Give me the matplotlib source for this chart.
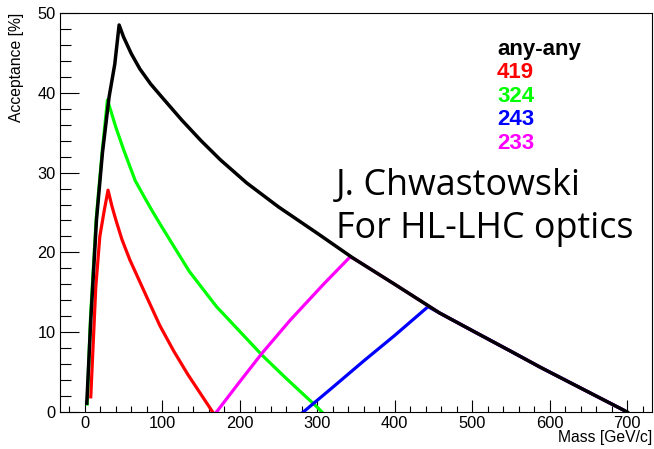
import matplotlib
matplotlib.use("Agg")
import matplotlib.pyplot as plt
from matplotlib.ticker import MultipleLocator

plt.rcParams['font.family'] = ['Liberation Sans', 'DejaVu Sans']

# Acceptance vs mass
any_x = [2.6, 7.7, 15.1, 22.8, 31.4, 38.7, 44.3, 50, 60, 71, 85, 100, 125, 150, 175,
         209, 250, 300, 346, 400, 458, 500, 550, 588, 650, 695, 700]
any_y = [1.1, 11.5, 24.1, 32.5, 39.5, 43.6, 48.5, 47.0, 44.9, 43.0, 41.1, 39.4, 36.6, 34.0, 31.6,
         28.7, 25.7, 22.4, 19.3, 16.0, 12.4, 10.2, 7.6, 5.6, 2.5, 0.25, 0.0]

s419_x = [7.7, 14.2, 19.4, 25, 30, 35, 40, 48, 58, 65, 80, 97, 115, 133, 150, 165]
s419_y = [1.9, 15.7, 22.0, 25.2, 27.8, 25.8, 24.1, 21.6, 19.1, 17.6, 14.4, 10.8, 7.6, 4.7, 2.2, 0.0]

s324_x = [3, 7.2, 14.6, 22.3, 29.2, 35, 40, 50, 65, 77, 87, 100, 135, 170, 200, 229, 260, 300, 306]
s324_y = [1.0, 11.5, 24.1, 32.5, 39.1, 37.3, 35.7, 32.9, 29.0, 26.9, 25.2, 23.1, 17.6, 13.2,
          10.1, 7.1, 4.2, 0.6, 0.0]

s243_x = [282, 320, 360, 400, 443, 458, 500, 550, 588, 650, 695]
s243_y = [0.0, 3.1, 6.4, 9.6, 13.2, 12.4, 10.2, 7.6, 5.6, 2.5, 0.25]

s233_x = [170, 200, 229, 265, 307, 342, 346, 400, 458, 500, 550, 588, 650, 695]
s233_y = [0.0, 3.8, 7.4, 11.5, 15.9, 19.4, 19.3, 16.0, 12.4, 10.2, 7.6, 5.6, 2.5, 0.25]

legend_labels = ["any-any", "419", "324", "243", "233"]
legend_colors = ["black", "#ff0000", "#00ff00", "#0000ff", "#ff00ff"]

W, H = 654, 449
fig = plt.figure(figsize=(W / 100, H / 100), dpi=100)
ax = fig.add_axes([60 / W, 1 - 412 / H, 592 / W, 399 / H])

lw = 2.3
ax.plot(s419_x, s419_y, color="#ff0000", lw=lw)
ax.plot(s324_x, s324_y, color="#00ff00", lw=lw)
ax.plot(s243_x, s243_y, color="#0000ff", lw=lw)
ax.plot(s233_x, s233_y, color="#ff00ff", lw=lw)
ax.plot(any_x, any_y, color="black", lw=2.5)

ax.set_xlim(-32, 732)
ax.set_ylim(0, 50)

ax.xaxis.set_major_locator(MultipleLocator(100))
ax.xaxis.set_minor_locator(MultipleLocator(20))
ax.yaxis.set_major_locator(MultipleLocator(10))
ax.yaxis.set_minor_locator(MultipleLocator(2))

ax.tick_params(axis='both', which='both', direction='in', width=0.8, labelsize=11.8)
ax.tick_params(axis='y', which='major', length=13.5, pad=3)
ax.tick_params(axis='y', which='minor', length=7.8)
ax.tick_params(axis='x', which='major', length=8.6, pad=3)
ax.tick_params(axis='x', which='minor', length=4.3)
for sp in ax.spines.values():
    sp.set_linewidth(0.8)

fig.text(17 / W, 1 - 13 / H, "Acceptance [%]", rotation=90, ha='center', va='top', fontsize=11.3)
fig.text(652 / W, 1 - 442 / H, "Mass [GeV/c]", ha='right', va='baseline', fontsize=11.3)

# colour key, one bold line per selection
for i, (lab, col) in enumerate(zip(legend_labels, legend_colors)):
    fig.text(497 / W, 1 - (55 + 23.4 * i) / H, lab, color=col, fontsize=16,
             fontweight='bold', ha='left', va='baseline')

fig.text(336 / W, 1 - 195 / H, "J. Chwastowski", fontsize=25.8, family=['Open Sans', 'DejaVu Sans'],
         ha='left', va='baseline')
fig.text(336 / W, 1 - 238 / H, "For HL-LHC optics", fontsize=25.8, family=['Open Sans', 'DejaVu Sans'],
         ha='left', va='baseline')

fig.savefig("out.png", dpi=100)
